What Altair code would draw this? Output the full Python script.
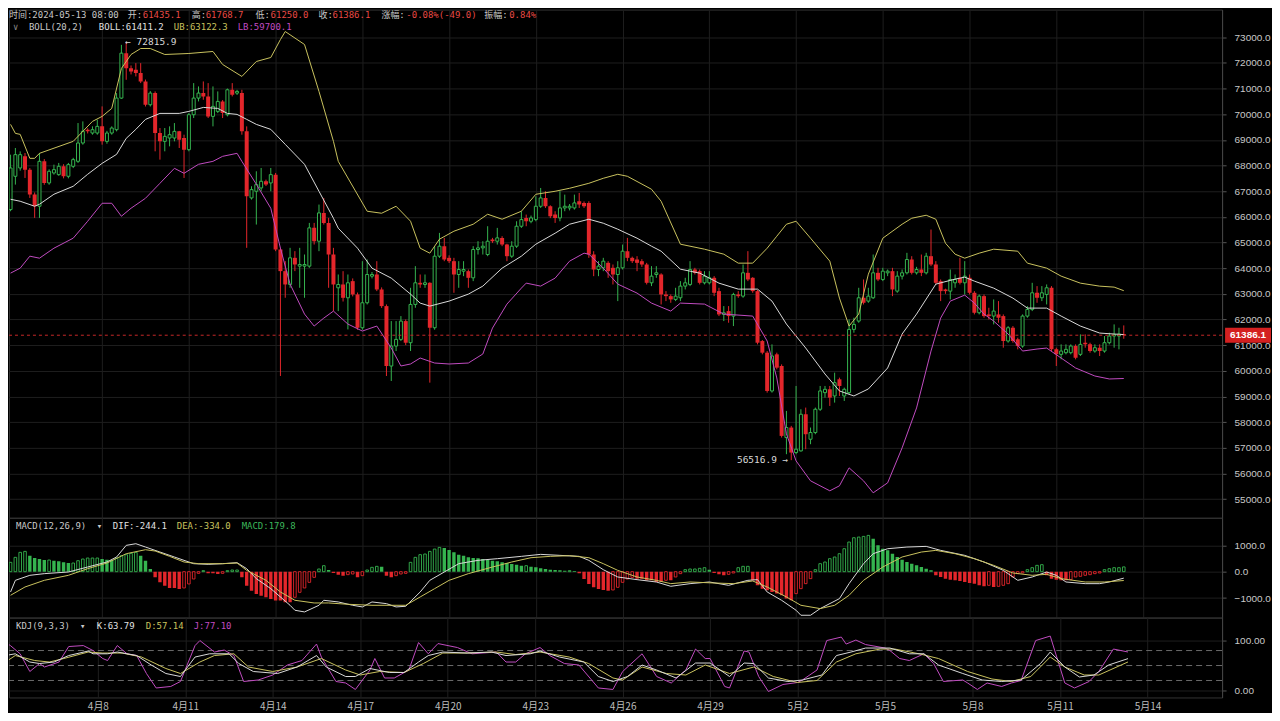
import altair as alt
import pandas as pd

# ---------------- data (4h candles, BTC) ----------------
START = "2024-04-04 20:00"
N = 232

opens = [66283,67580,67904,68358,67839,66867,66413,68164,67321,67710,
         67645,67969,67580,67969,68164,68877,69396,69266,69266,69526,
         68942,69266,69396,70628,72379,71795,71730,71601,71277,70369,
         70823,69266,68942,69072,69072,69331,69072,68618,69980,70628,
         70823,70693,69915,70109,70498,69980,70952,70823,70823,69331,
         66737,66997,67126,67386,67321,67645,64727,63884,63365,64402,
         64078,64078,64078,65570,65051,66153,65764,64531,63234,63364,
         62845,63494,62975,61678,62651,63688,63753,63169,62521,60186,
         60965,61224,61937,61094,62586,63429,63364,63429,61678,64466,
         64856,64402,64272,63753,63883,63883,63623,64726,64791,64531,
         65115,65050,65180,64920,64466,64856,65634,65958,65828,65893,
         66412,66736,66412,66088,65958,66347,66347,66347,66607,66542,
         66542,64531,63948,64013,64207,64013,63753,64013,64661,64402,
         64337,64272,64142,63429,63754,63754,62975,62910,62781,62846,
         63300,63365,63948,63883,63429,63429,63624,63105,62197,62327,
         62132,62975,62910,63818,63624,63105,61160,60706,59214,60641,
         60187,57398,57788,56814,56879,58306,57333,57593,58501,59149,
         59279,59020,59668,59020,59149,61614,61938,62846,62716,62846,
         63818,63559,63818,63883,63105,63689,63818,64337,63818,63948,
         63818,64467,64143,63494,63170,63105,63429,63624,63429,63624,
         63040,62262,62910,62197,62132,62197,62132,61160,61678,61225,
         60965,62132,62392,63040,62846,62975,63235,60835,60641,60706,
         60706,60965,60641,61095,61030,60770,60900,60770,61095,61355,
         61355,61435.1]
highs = [68423,68683,68550,68488,67900,66950,68488,68250,67850,68034,
         68100,68050,68100,68300,69655,69720,69450,69526,69785,70304,
         69350,69526,70823,72703,72816,71900,71990,71990,71350,70900,
         70888,69461,69461,69526,69655,69350,69201,70044,71212,71082,
         71277,71212,71082,70888,70550,71000,71212,70950,70952,69526,
         67191,67775,67904,67450,67904,67710,64792,64273,64792,64662,
         64792,64532,65764,65764,66478,66737,65959,64791,63753,63883,
         63753,63600,63050,64272,64337,63850,64272,63250,62586,61937,
         61937,62132,62000,63234,64078,63753,63753,63450,64856,65374,
         65180,64500,64402,64272,64272,63948,64856,65050,65050,65634,
         65180,65569,65245,64950,65050,65828,66218,66088,66050,66801,
         67125,66996,66450,66218,66996,66866,66500,66866,66931,66600,
         66607,64661,64272,64402,64272,64142,64272,64920,65180,64450,
         64466,64350,64207,64078,64078,63800,63105,62975,63235,63494,
         63624,64273,64013,63948,63883,63883,63689,63235,62521,62521,
         63040,63105,64143,64662,63650,63150,61200,60770,61030,60706,
         60250,58436,57853,59409,58501,58566,57788,58566,59409,59409,
         59409,59927,59733,59344,62003,62068,63235,63559,63235,64532,
         64013,64013,63948,64013,63883,63948,64597,64467,64050,64532,
         64597,65505,64273,63559,63200,63948,63754,64402,64273,63754,
         63105,62975,62975,62456,62781,62716,62197,61743,61743,61290,
         62197,62521,63429,63300,63300,63365,63300,60900,61030,61030,
         61030,61030,61419,61419,61095,61030,61030,61355,61484,61808,
         61678,61768.7]
lows = [66218,67256,67800,67515,66737,65959,65959,67250,67250,67645,
        67600,67500,67500,67900,68100,68812,69250,69201,69201,68812,
        68850,69201,69331,70600,71341,71550,71471,71212,70300,70300,
        68553,68229,68553,68747,68942,68683,67515,68553,69850,70498,
        70563,69850,69526,70044,69850,69915,70693,70750,69201,64792,
        66672,65699,66997,67200,66997,64662,59798,62846,63235,63884,
        63235,62846,64013,64921,64662,65699,63235,62326,62326,62700,
        61613,62900,61600,61600,62586,63600,63105,62450,59797,59603,
        60770,61159,61000,60770,62456,63234,63234,59538,61600,64400,
        64272,64200,63040,63234,63688,63234,63494,64531,64531,64466,
        64985,64920,64856,64272,64402,64791,65569,65634,65750,65828,
        66347,66347,65950,65764,65828,66218,66250,66282,66347,66347,
        64402,63688,63688,63883,63623,63364,62716,63948,64272,64200,
        63883,64050,63364,63300,63624,62586,62716,62651,62716,62716,
        63170,63300,63754,63365,63365,63365,62910,62132,61938,61873,
        61743,62846,62846,63494,63040,61030,60641,59149,59150,60057,
        57398,56750,56517,56750,56850,56944,57139,57528,58436,58955,
        58630,58760,59020,58825,59084,61484,61873,62586,62651,62800,
        63494,63494,63689,62910,63040,63559,63754,63754,63750,63689,
        63754,64078,63365,62716,63000,62781,63235,63365,62975,62975,
        62197,62197,62068,62003,61808,61873,60900,61095,61095,60835,
        60900,62068,62327,62651,62716,62586,60770,60187,60446,60641,
        60641,60446,60576,60900,60706,60706,60576,60706,61030,60900,
        60835,61250.0]
closes = [67904,68423,68423,67839,66867,66413,68164,67321,67775,67839,
          67969,67580,68034,68229,68877,69331,69331,69396,69526,68942,
          69266,69461,70628,72379,71795,71666,71601,71277,70369,70823,
          69266,68942,69136,69201,69331,69007,68618,69980,70628,70823,
          70693,69915,70304,70498,70044,70952,70758,70888,69331,66802,
          67061,67256,67386,67256,67645,64727,63884,63365,64402,64143,
          64143,64143,65570,65051,66153,65764,64532,63364,63364,62845,
          63429,62975,61678,62651,63753,63753,63169,62521,60186,60965,
          61224,61937,61094,62586,63429,63364,63429,61678,64466,64856,
          64337,64272,63753,63948,63948,63623,64726,64791,64856,65050,
          65050,65180,64920,64466,64856,65634,65893,65828,65958,66412,
          66736,66412,66023,65958,66347,66412,66412,66542,66477,66412,
          64531,63948,64078,64272,63883,63753,64013,64661,64402,64272,
          64207,64142,63429,63689,63818,62975,62910,62781,62910,63300,
          63429,63948,63818,63429,63689,63624,63040,62197,62262,62132,
          62975,62910,63818,63559,63105,61095,60706,59214,60576,60122,
          57463,57788,56814,56944,58306,57528,57593,58501,59214,59279,
          58955,59538,59409,59279,61614,61808,62846,62651,62910,63818,
          63559,63883,63883,63170,63689,63818,64337,63818,63948,63818,
          64467,64143,63429,63105,63105,63559,63559,63429,63689,63040,
          62262,62910,62132,62132,62327,62068,61160,61678,61160,60965,
          62132,62392,63040,62846,63040,63235,60835,60641,60770,60835,
          60965,60511,61030,61030,60770,60900,60770,61095,61355,61419,
          61435,61386.1]

# Bollinger bands (at candle indices)
ub_idx = [0,1,2,4,5,6,13,17,19,21,23,25,27,29,32,37,42,44,48,51,54,56,57,61,64,67,68,
          74,77,80,83,85,87,89,92,96,99,102,106,109,113,116,120,123,126,128,133,135,
          139,144,148,151,154,157,159,161,163,166,170,172,174,176,178,181,185,187,190,
          192,194,196,198,201,204,209,211,215,218,222,226,229,231]
ub_val = [69603,69253,69214,68280,68280,68475,68942,69720,69914,70226,71782,72327,72560,
          72560,72327,72366,72444,71938,71471,72054,72210,72910,73222,72716,70887,68942,
          68163,66218,66140,66412,65829,64778,64584,65129,65440,65712,66101,65907,66218,
          66879,66996,67113,67307,67502,67658,67580,67074,66607,64934,64739,64545,64195,
          64195,64778,65245,65712,65829,65168,64273,62833,61743,62210,63767,65168,65712,
          65946,66062,65907,64973,64545,64389,64584,64739,64661,64195,64000,63689,63416,
          63299,63261,63122.3]
mid_idx = [0,2,5,6,9,13,16,19,22,24,26,28,31,35,37,40,43,45,47,49,51,54,57,61,64,67,68,
           72,75,79,83,85,87,91,95,98,102,106,109,113,116,120,123,126,130,133,135,139,
           143,147,151,155,158,161,165,169,172,175,178,182,185,188,192,196,198,200,204,
           208,211,215,218,222,226,229,231]
mid_val = [66685,66607,66413,66490,66880,67191,67658,68085,68435,69058,69409,69798,70031,
           70031,70109,70264,70226,70031,69992,69798,69603,69409,68825,68047,66996,65946,
           65556,64778,64000,63611,62988,62638,62521,62716,62988,63300,64000,64467,64934,
           65362,65712,65907,65751,65518,65168,64856,64661,63961,63806,63416,63183,63183,
           62716,61821,60887,59875,59214,59020,59292,60109,61432,62210,63378,63572,63650,
           63494,63222,62833,62443,62443,62132,61743,61471,61432,61411.2]
lb_idx = [0,2,4,6,9,13,16,19,21,23,25,28,31,34,36,39,42,44,47,48,51,54,56,58,61,63,65,
          67,70,73,76,79,81,83,85,88,91,95,98,100,103,106,107,110,113,116,119,120,123,
          126,130,133,137,139,144,148,154,157,159,161,163,166,170,172,174,177,179,182,
          185,188,191,193,195,198,200,202,204,207,210,213,215,218,221,225,228,231]
lb_val = [63806,64000,64467,64389,64778,65168,65829,66529,66529,66023,66335,66724,67307,
          67891,67697,68047,68163,68358,68475,68163,67269,66335,64778,63378,62210,61743,
          62054,62327,61821,61549,61743,60887,60187,60265,60498,60303,60265,60303,60654,
          61665,62599,63222,63417,63300,63611,64273,64584,64545,64000,63378,63028,62638,
          62327,62638,62599,62210,62132,61160,59720,57541,56490,55712,55323,55518,56218,
          55712,55245,55634,56996,58552,60770,62054,62716,62949,62638,62210,61938,61432,
          60770,60848,60887,60498,60109,59797,59681,59700.1]

# MACD histogram, one bar per candle
macd_hist = [352,541,730,767,604,516,478,440,440,415,
             390,352,327,327,415,478,516,516,516,478,
             453,440,516,604,642,692,730,604,415,101,
             -214,-403,-528,-616,-616,-654,-616,-465,-277,-63,
             38,-63,-63,-88,-63,38,63,63,-214,-528,
             -717,-843,-906,-969,-1032,-1094,-1094,-1157,-1157,-969,
             -780,-616,-403,-214,101,226,63,-50,-113,-151,
             -113,-88,-214,-151,63,164,201,189,-151,-214,
             -151,-88,-63,352,541,642,667,767,855,918,
             893,818,730,642,604,541,516,503,478,440,
             415,390,352,327,289,264,226,226,189,164,
             126,101,75,63,50,38,38,25,-63,-277,
             -465,-591,-654,-692,-717,-692,-591,-403,-277,-214,
             -264,-264,-327,-327,-390,-390,-327,-327,-201,-75,
             75,101,101,126,151,75,-50,-101,-138,-101,
             -50,151,201,201,-327,-516,-642,-704,-767,-830,
             -893,-1019,-1082,-830,-642,-453,-264,75,302,365,
             491,554,679,868,1120,1283,1308,1333,1371,1245,
             994,868,805,679,554,453,365,302,239,176,
             113,50,-138,-201,-264,-302,-327,-352,-390,-428,
             -453,-516,-554,-516,-579,-554,-516,-453,-201,-75,
             -50,75,151,239,264,-138,-264,-302,-327,-327,
             -302,-201,-176,-138,-113,-75,-50,75,113,151,
             151,179.8]
dif_idx = [0,1,4,7,12,16,20,22,24,26,28,31,34,38,41,44,47,49,51,54,58,59,61,64,65,68,71,
           73,75,78,80,82,85,87,90,93,97,101,106,110,114,118,120,123,126,130,134,137,141,
           145,149,153,155,157,160,163,164,166,168,172,174,177,179,182,186,190,193,198,
           202,206,209,212,215,217,219,223,226,228,231]
dif_val = [-767,-327,-138,-75,-13,176,365,554,994,1057,931,742,554,302,277,302,340,113,
           -264,-642,-1271,-1459,-1522,-1271,-1082,-1145,-1271,-1333,-1145,-1208,-1333,
           -1308,-767,-327,-13,302,428,491,579,654,616,579,428,75,-201,-302,-390,-553,
           -453,-390,-516,-327,-302,-767,-1082,-1459,-1648,-1648,-1396,-1019,-453,302,
           679,868,931,956,805,616,365,50,-327,-201,-13,-138,-390,-453,-453,-390,-244.1]
dea_idx = [0,3,7,12,16,20,24,28,30,33,36,39,44,47,49,53,56,59,63,66,70,75,79,82,85,88,91,
           95,100,104,108,112,116,120,123,126,130,134,137,141,146,150,154,157,161,164,168,
           171,174,177,181,185,189,192,196,200,204,208,212,215,218,223,227,231]
dea_val = [-893,-579,-327,-138,113,327,679,830,780,579,365,302,302,327,50,-327,-767,-1082,
           -1183,-1183,-1233,-1271,-1271,-1271,-956,-642,-327,-75,176,365,528,579,604,528,
           302,50,-201,-327,-453,-390,-428,-453,-352,-579,-956,-1271,-1396,-1271,-893,-327,
           176,554,742,805,679,491,239,-50,-138,-101,-264,-390,-390,-334.0]

# KDJ
k_idx = [0,2,5,7,10,13,17,18,21,23,27,30,33,36,39,42,46,48,51,56,60,64,66,70,72,75,79,82,
         85,87,90,95,100,103,108,110,114,119,122,125,128,131,134,138,142,145,149,152,154,
         157,161,164,168,171,174,177,182,186,189,192,197,201,205,209,213,215,218,221,224,
         227,231]
k_val = [70,73.5,57,54,57,70,79,73.5,73.5,77,70,51,34,28,67,73.5,73.5,54,38,34,47,70,47,
         28,28,44,36,36,57,70,77,75,77,70,73.5,79,67,57,28,18,28,51,41,25,55,55,28,55,54,
         25,18,21,31,70,77,85,85,73.5,73.5,51,34,21,18,21,54,77,47,27,31,51,63.79]
d_idx = [0,2,6,9,12,17,20,24,28,33,36,40,43,47,50,55,60,65,70,73,77,82,86,90,95,101,105,
         110,116,120,125,127,131,136,140,144,149,154,158,163,167,171,175,180,183,188,192,
         198,203,207,211,215,218,222,225,231]
d_val = [57,70,60,57,64,77,75,75,67,44,34,57,70,73.5,47,38,47,64,41,31,38,36,54,75,75,77,
         72,77,67,54,25,21,47,34,31,51,34,47,28,16,20,57,73.5,83,83,73.5,64,38,23,18,28,67,
         47,31,31,57.14]
j_idx = [0,1,3,5,7,8,11,13,16,18,20,21,23,25,27,29,31,34,36,39,40,43,45,47,49,52,55,58,61,
         64,65,68,70,72,75,76,78,80,83,85,87,89,93,96,101,103,105,107,110,112,115,118,122,
         125,127,131,134,137,140,142,144,145,148,149,152,153,155,157,160,163,164,167,169,
         172,173,175,177,181,182,184,186,189,191,193,197,198,200,202,205,207,209,212,215,
         218,220,223,225,228,231]
j_val = [96,90,73.5,38,54,47,57,88,90,80,64,60,90,73.5,70,34,5,8,18,90,100,77,81,70,18,21,
         31,51,60,93,67,18,15,2,41,64,25,25,41,96,73.5,94,86,73.5,77,57,57,73.5,86,70,54,51,
         5,2,38,73.5,28,15,41,83,64,64,8,5,79,77,28,-2,12,16,21,41,100,107,93,101,92,85,80,
         64,60,73.5,54,18,21,15,2,15,8,15,20,100,109,15,5,18,38,83,77.1]

tick_days = [(4, 8), (4, 11), (4, 14), (4, 17), (4, 20), (4, 23), (4, 26), (4, 29),
             (5, 2), (5, 5), (5, 8), (5, 11), (5, 14)]
price_ticks = list(range(55000, 74000, 1000))
last_price = 61386.1
hi_idx, hi_val = 24, 72815.9
lo_idx, lo_val = 162, 56516.9

for a, b in [(ub_idx, ub_val), (mid_idx, mid_val), (lb_idx, lb_val), (dif_idx, dif_val),
             (dea_idx, dea_val), (k_idx, k_val), (d_idx, d_val), (j_idx, j_val)]:
    assert len(a) == len(b), (len(a), len(b))
for arr in (opens, highs, lows, closes, macd_hist):
    assert len(arr) == N, len(arr)

# ---------------- frames ----------------
times = pd.date_range(START, periods=N, freq="4h")
tstr = [t.strftime("%Y-%m-%dT%H:%M:%S") for t in times]

cdf = pd.DataFrame({"t": tstr, "o": opens, "h": highs, "l": lows, "c": closes})
cdf["dir"] = ["up" if c >= o else "down" for o, c in zip(opens, closes)]


def series_df(idx, val):
    return pd.DataFrame({"t": [tstr[i] for i in idx], "v": val})


kinds = []
prev = 0
for v in macd_hist:
    if v >= 0:
        kinds.append("gh" if v >= prev else "gf")
    else:
        kinds.append("rf" if v <= prev else "rh")
    prev = v
hdf = pd.DataFrame({"t": tstr, "v": macd_hist, "k": kinds})

# ---------------- style ----------------
BG = "#000000"
GRID = "#1e1e1e"
GREEN = "#35b44f"
RED = "#e3262b"
YEL = "#c9c25e"
WHT = "#d9d9d9"
MAG = "#c04bc0"
TXT = "#c8c8c8"
MONO = "DejaVu Sans Mono, Noto Sans CJK SC"
CJK = "Noto Sans CJK SC"

W = 1215
H_MAIN, H_MACD, H_KDJ = 509, 100, 80

XS = alt.Scale(domain=[alt.DateTime(year=2024, month=4, date=4, hours=22, minutes=51),
                       alt.DateTime(year=2024, month=5, date=16, hours=13, minutes=27)])
TICKS = [alt.DateTime(year=2024, month=m, date=d) for m, d in tick_days]
XAX_HIDE = alt.Axis(values=TICKS, labels=False, ticks=False, domain=False, title=None,
                    grid=True, gridColor=GRID)
XAX_BOTTOM = alt.Axis(values=TICKS, format="%-m月%-d", labelColor="#bdbdbd", labelFont=CJK,
                      labelFontSize=10, ticks=False, domain=False, title=None, grid=True,
                      gridColor=GRID, labelPadding=4)


def yaxis(values, fmt):
    return alt.Axis(orient="right", values=values, format=fmt, labelColor=TXT,
                    labelFont="Liberation Sans", labelFontSize=10, tickColor="#555",
                    tickSize=4, domainColor="#444", gridColor=GRID, title=None,
                    labelPadding=8)


YS = alt.Scale(domain=[54273, 74078], nice=False, zero=False)
MYS = alt.Scale(domain=[-1736, 2038], nice=False, zero=False)
KYS = alt.Scale(domain=[-14, 146], nice=False, zero=False)
YAX = yaxis(price_ticks, ".1f")
MAX = yaxis([-1000, 0, 1000], ".1f")
KAX = yaxis([0, 100], ".2f")

ONE = pd.DataFrame({"k": [0]})


def label(text, x, y, color, size=9, font=MONO, **kw):
    return alt.Chart(ONE).mark_text(text=text, color=color, fontSize=size, font=font,
                                    align="left", baseline="middle", **kw).encode(
        x=alt.value(x), y=alt.value(y))


X = alt.X("t:T", scale=XS, axis=XAX_HIDE)
XB = alt.X("t:T", scale=XS, axis=XAX_BOTTOM)


def line(idx, val, color, yscale, yaxis_, xenc):
    return alt.Chart(series_df(idx, val)).mark_line(
        strokeWidth=1, clip=True, color=color).encode(
        x=xenc, y=alt.Y("v:Q", scale=yscale, axis=yaxis_))


# ---------------- main panel ----------------
wicks = alt.Chart(cdf).mark_rule(strokeWidth=1, clip=True).encode(
    x=X,
    y=alt.Y("l:Q", scale=YS, axis=YAX),
    y2="h:Q",
    color=alt.Color("dir:N", scale=alt.Scale(domain=["up", "down"], range=[GREEN, RED]),
                    legend=None))
up_body = alt.Chart(cdf).transform_filter("datum.dir == 'up'").mark_bar(
    width=3, fill=BG, stroke=GREEN, strokeWidth=1, clip=True).encode(
    x=X, y=alt.Y("o:Q", scale=YS, axis=YAX), y2="c:Q")
dn_body = alt.Chart(cdf).transform_filter("datum.dir == 'down'").mark_bar(
    width=4, color=RED, clip=True).encode(
    x=X, y=alt.Y("o:Q", scale=YS, axis=YAX), y2="c:Q")
ub_line = line(ub_idx, ub_val, YEL, YS, YAX, X)
mid_line = line(mid_idx, mid_val, WHT, YS, YAX, X)
lb_line = line(lb_idx, lb_val, MAG, YS, YAX, X)

pdf = pd.DataFrame({"p": [last_price]})
price_line = alt.Chart(pdf).mark_rule(color="#c62828", strokeDash=[3, 3], strokeWidth=1).encode(
    y=alt.Y("p:Q", scale=YS, axis=YAX))
price_tag = alt.Chart(pdf).mark_point(
    shape="M-1,-0.33L1,-0.33L1,0.33L-1,0.33Z", size=2116, filled=True, color="#d42020",
    opacity=1, strokeWidth=0).encode(x=alt.value(W + 26), y=alt.Y("p:Q", scale=YS, axis=YAX))
price_txt = alt.Chart(pdf).mark_text(text=f"{last_price:.1f}", color="#ffffff", fontSize=10,
                                     font="Liberation Sans", fontWeight="bold",
                                     align="center", baseline="middle").encode(
    x=alt.value(W + 26), y=alt.Y("p:Q", scale=YS, axis=YAX))
hl = pd.DataFrame({"t": [tstr[hi_idx]], "p": [hi_val]})
ll = pd.DataFrame({"t": [tstr[lo_idx]], "p": [lo_val]})
hi_txt = alt.Chart(hl).mark_text(text=f"← {hi_val:.1f}", color="#d8d8d8", fontSize=9.5,
                                 font=MONO, align="left", baseline="middle", dx=-1).encode(
    x=X, y=alt.Y("p:Q", scale=YS, axis=YAX))
lo_txt = alt.Chart(ll).mark_text(text=f"{lo_val:.1f} →", color="#d8d8d8", fontSize=9.5,
                                 font=MONO, align="right", baseline="middle", dx=-3).encode(
    x=X, y=alt.Y("p:Q", scale=YS, axis=YAX))

RV = "#e84a45"
top_texts = [
    label("时间:2024-05-13 08:00", 0, 5, TXT),
    label("开:", 119, 5, TXT), label("61435.1", 134, 5, RV),
    label("高:", 183, 5, TXT), label("61768.7", 197, 5, RV),
    label("低:", 247, 5, TXT), label("61250.0", 262, 5, RV),
    label("收:", 310, 5, TXT), label("61386.1", 324, 5, RV),
    label("涨幅:", 373, 5, TXT), label("-0.08%(-49.0)", 398, 5, RV),
    label("振幅:", 476, 5, TXT), label("0.84%", 501, 5, RV),
    label("∨", 4, 17, "#888888"),
    label("BOLL(20,2)", 20, 17, TXT),
    label("BOLL:61411.2", 90, 17, "#e0e0e0"),
    label("UB:63122.3", 165, 17, YEL),
    label("LB:59700.1", 229, 17, MAG),
]

main = alt.layer(wicks, up_body, dn_body, ub_line, mid_line, lb_line, price_line, price_tag,
                 price_txt, hi_txt, lo_txt, *top_texts).properties(width=W, height=H_MAIN)


# ---------------- MACD panel ----------------
def hbar(kind, **mk):
    return alt.Chart(hdf).transform_filter(f"datum.k == '{kind}'").mark_bar(
        clip=True, **mk).encode(x=X, y=alt.Y("v:Q", scale=MYS, axis=MAX), y2=alt.datum(0))


macd_texts = [
    label("MACD(12,26,9)", 7, 8, TXT), label("▾", 88, 8, TXT),
    label("DIF:-244.1", 104, 8, "#e0e0e0"), label("DEA:-334.0", 168, 8, YEL),
    label("MACD:179.8", 233, 8, "#3cb55a"),
]
macd = alt.layer(
    hbar("gf", width=3.4, color=GREEN),
    hbar("gh", width=2.6, fill=BG, stroke=GREEN, strokeWidth=0.9),
    hbar("rf", width=3.4, color=RED),
    hbar("rh", width=2.6, fill=BG, stroke=RED, strokeWidth=0.9),
    line(dif_idx, dif_val, WHT, MYS, MAX, X),
    line(dea_idx, dea_val, YEL, MYS, MAX, X),
    *macd_texts,
).properties(width=W, height=H_MACD)

# ---------------- KDJ panel ----------------
lv = pd.DataFrame({"v": [20, 50, 80]})
kdj_ref = alt.Chart(lv).mark_rule(color="#6a6a6a", strokeDash=[6, 4], strokeWidth=1).encode(
    y=alt.Y("v:Q", scale=KYS, axis=KAX))
kdj_texts = [
    label("KDJ(9,3,3)", 7, 8, TXT), label("▾", 71, 8, TXT),
    label("K:63.79", 88, 8, "#e0e0e0"), label("D:57.14", 137, 8, YEL),
    label("J:77.10", 185, 8, MAG),
]
kdjc = alt.layer(
    kdj_ref,
    line(j_idx, j_val, MAG, KYS, KAX, XB),
    line(d_idx, d_val, YEL, KYS, KAX, XB),
    line(k_idx, k_val, WHT, KYS, KAX, XB),
    *kdj_texts,
).properties(width=W, height=H_KDJ)

chart = alt.vconcat(main, macd, kdjc, spacing=0, bounds="flush").properties(
    background=BG, padding={"left": 0, "top": 0, "right": 0, "bottom": 0}
).configure_view(stroke="#333333", strokeWidth=1)

chart.save("out.html", embed_options={"renderer": "svg", "actions": False})
